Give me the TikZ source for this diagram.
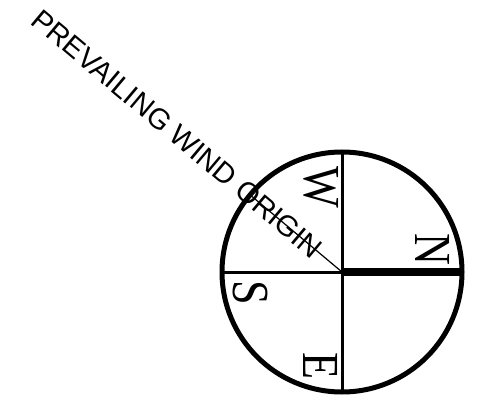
\documentclass[tikz,border=0pt]{standalone}
\usepackage{fontspec}
\setmainfont{Liberation Serif}
\newfontfamily\windfont{Liberation Sans}
\usetikzlibrary{positioning, calc}
\tikzset{
    ring/.style={
        line width=5pt,
        draw=black
    },
    axis/.style={
        line width=3pt
    },
    northaxis/.style={
        line width=8pt
    },
    windline/.style={
        line width=1.2pt
    },
    point/.style={
        font=\fontsize{52}{52}\selectfont,
        inner sep=0pt,
        transform shape,
        rotate=-90,
        xscale=0.85
    }
}

\begin{document}
\begin{tikzpicture}[x=1pt,y=1pt]

      \useasboundingbox (0,0) rectangle (485,416);

      \coordinate (C) at (342,144);
      \coordinate (Ntip) at ($(C)+(120,0)$);
      \coordinate (Stip) at ($(C)+(-120,0)$);
      \coordinate (Wtip) at ($(C)+(0,120)$);
      \coordinate (Etip) at ($(C)+(0,-120)$);
      \coordinate (Wind) at ($(C)+(140:120)$);

      \draw[axis] (Stip)--(Ntip);
      \draw[axis] (Etip)--(Wtip);
      \draw[northaxis] (C)--(Ntip);
      \draw[windline] (C)--(Wind);
      \draw[ring] (C) circle (120);

      \node[point] (N) at (433,167) {N};
      \node[point] (W) at (321,229) {W};
      \node[point] (S) at (250,123) {S};
      \node[point] (E) at (321,50) {E};

      \node[font=\windfont\fontsize{29}{29}\selectfont,inner sep=0pt,
            transform shape,rotate=-40] (label) at ($(C)+(140:215)$)
            {PREVAILING WIND ORIGIN};

    \end{tikzpicture}
\end{document}
